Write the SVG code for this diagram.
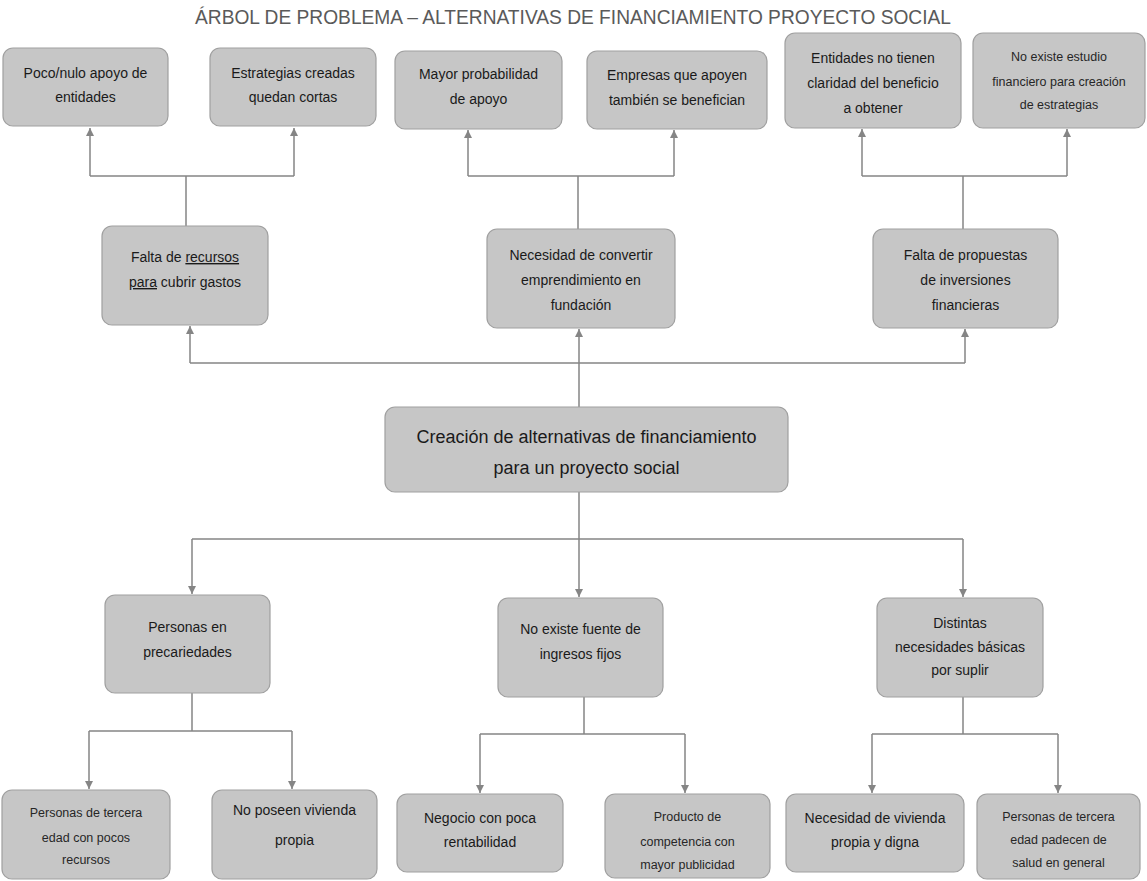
<svg xmlns="http://www.w3.org/2000/svg" width="1147" height="881" viewBox="0 0 1147 881">
<style>
.box{fill:#c6c6c6;stroke:#a0a0a0;stroke-width:1.2}
.t{font-family:"Liberation Sans",Arial,sans-serif;font-size:14px;fill:#1a1a1a;text-anchor:middle}
.s{font-size:12.5px;fill:#262626}
.c{font-size:18px}
.con{fill:none;stroke:#858585;stroke-width:1.5}
.title{font-family:"Liberation Sans",Arial,sans-serif;font-size:21px;fill:#5a5a5a;text-anchor:middle}
</style>
<defs>
<marker id="ah" markerUnits="userSpaceOnUse" markerWidth="9" markerHeight="9" refX="8" refY="4" orient="auto">
<path d="M0,0 L8,4 L0,8 z" fill="#858585"/>
</marker>
</defs>
<rect width="1147" height="881" fill="#ffffff"/>
<text class="title" x="573" y="24" textLength="756" lengthAdjust="spacingAndGlyphs">ÁRBOL DE PROBLEMA – ALTERNATIVAS DE FINANCIAMIENTO PROYECTO SOCIAL</text>

<g id="connectors">
<path class="con" d="M186,226 V176 M90,176 H294"/>
<path class="con" d="M90,176 V128" marker-end="url(#ah)"/>
<path class="con" d="M294,176 V128" marker-end="url(#ah)"/>
<path class="con" d="M578,229 V176 M468,176 H674"/>
<path class="con" d="M468,176 V130" marker-end="url(#ah)"/>
<path class="con" d="M674,176 V130" marker-end="url(#ah)"/>
<path class="con" d="M963,229 V176 M862,176 H1067"/>
<path class="con" d="M862,176 V129" marker-end="url(#ah)"/>
<path class="con" d="M1067,176 V129" marker-end="url(#ah)"/>
<path class="con" d="M190,363 H965"/>
<path class="con" d="M190,363 V326" marker-end="url(#ah)"/>
<path class="con" d="M965,363 V329" marker-end="url(#ah)"/>
<path class="con" d="M579,407 V329" marker-end="url(#ah)"/>
<path class="con" d="M579,492 V597" marker-end="url(#ah)"/>
<path class="con" d="M192,539 H963"/>
<path class="con" d="M192,539 V594" marker-end="url(#ah)"/>
<path class="con" d="M963,539 V597" marker-end="url(#ah)"/>
<path class="con" d="M192,693 V731 M89,731 H292"/>
<path class="con" d="M89,731 V789" marker-end="url(#ah)"/>
<path class="con" d="M292,731 V789" marker-end="url(#ah)"/>
<path class="con" d="M584,697 V734 M480,734 H685"/>
<path class="con" d="M480,734 V793" marker-end="url(#ah)"/>
<path class="con" d="M685,734 V793" marker-end="url(#ah)"/>
<path class="con" d="M963,697 V734 M872,734 H1058"/>
<path class="con" d="M872,734 V793" marker-end="url(#ah)"/>
<path class="con" d="M1058,734 V793" marker-end="url(#ah)"/>
</g>

<g id="n1"><rect class="box" x="3" y="48" width="165" height="78" rx="10"/>
<text class="t" x="85.5" y="78">Poco/nulo apoyo de</text><text class="t" x="85.5" y="102">entidades</text></g>
<g id="n2"><rect class="box" x="210" y="48" width="166" height="78" rx="10"/>
<text class="t" x="293" y="78">Estrategias creadas</text><text class="t" x="293" y="102">quedan cortas</text></g>
<g id="n3"><rect class="box" x="395" y="51" width="167" height="78" rx="10"/>
<text class="t" x="478.5" y="79">Mayor probabilidad</text><text class="t" x="478.5" y="104">de apoyo</text></g>
<g id="n4"><rect class="box" x="587" y="51" width="180" height="78" rx="10"/>
<text class="t" x="677" y="80">Empresas que apoyen</text><text class="t" x="677" y="105">también se benefician</text></g>
<g id="n5"><rect class="box" x="785" y="33" width="176" height="95" rx="10"/>
<text class="t" x="873" y="63">Entidades no tienen</text><text class="t" x="873" y="88">claridad del beneficio</text><text class="t" x="873" y="113">a obtener</text></g>
<g id="n6"><rect class="box" x="973" y="33" width="172" height="95" rx="10"/>
<text class="t s" x="1059" y="61">No existe estudio</text><text class="t s" x="1059" y="86">financiero para creación</text><text class="t s" x="1059" y="109">de estrategias</text></g>

<g id="n7"><rect class="box" x="102" y="226" width="166" height="99" rx="10"/>
<text class="t" x="185" y="262">Falta de <tspan text-decoration="underline">recursos </tspan></text><text class="t" x="185" y="287"><tspan text-decoration="underline">para</tspan> cubrir gastos</text></g>
<g id="n8"><rect class="box" x="487" y="229" width="188" height="99" rx="10"/>
<text class="t" x="581" y="260">Necesidad de convertir</text><text class="t" x="581" y="285">emprendimiento en</text><text class="t" x="581" y="310">fundación</text></g>
<g id="n9"><rect class="box" x="873" y="229" width="185" height="99" rx="10"/>
<text class="t" x="965.5" y="260">Falta de propuestas</text><text class="t" x="965.5" y="285">de inversiones</text><text class="t" x="965.5" y="310">financieras</text></g>

<g id="n0"><rect class="box" x="385" y="407" width="403" height="85" rx="10"/>
<text class="t c" x="586.5" y="443">Creación de alternativas de financiamiento</text><text class="t c" x="586.5" y="474">para un proyecto social</text></g>

<g id="n10"><rect class="box" x="105" y="595" width="165" height="98" rx="10"/>
<text class="t" x="187.5" y="632">Personas en</text><text class="t" x="187.5" y="657">precariedades</text></g>
<g id="n11"><rect class="box" x="498" y="598" width="165" height="99" rx="10"/>
<text class="t" x="580.5" y="634">No existe fuente de</text><text class="t" x="580.5" y="659">ingresos fijos</text></g>
<g id="n12"><rect class="box" x="877" y="598" width="166" height="99" rx="10"/>
<text class="t" x="960" y="628">Distintas</text><text class="t" x="960" y="652">necesidades básicas</text><text class="t" x="960" y="675">por suplir</text></g>

<g id="n13"><rect class="box" x="2" y="790" width="168" height="89" rx="10"/>
<text class="t s" x="86" y="817">Personas de tercera</text><text class="t s" x="86" y="842">edad con pocos</text><text class="t s" x="86" y="864">recursos</text></g>
<g id="n14"><rect class="box" x="212" y="790" width="165" height="89" rx="10"/>
<text class="t" x="294.5" y="815">No poseen vivienda</text><text class="t" x="294.5" y="845">propia</text></g>
<g id="n15"><rect class="box" x="397" y="794" width="166" height="78" rx="10"/>
<text class="t" x="480" y="823">Negocio con poca</text><text class="t" x="480" y="847">rentabilidad</text></g>
<g id="n16"><rect class="box" x="605" y="794" width="165" height="84" rx="10"/>
<text class="t s" x="687.5" y="821">Producto de</text><text class="t s" x="687.5" y="846">competencia con</text><text class="t s" x="687.5" y="869">mayor publicidad</text></g>
<g id="n17"><rect class="box" x="786" y="794" width="178" height="78" rx="10"/>
<text class="t" x="875" y="823">Necesidad de vivienda</text><text class="t" x="875" y="847">propia y digna</text></g>
<g id="n18"><rect class="box" x="977" y="794" width="163" height="85" rx="10"/>
<text class="t s" x="1058.5" y="821">Personas de tercera</text><text class="t s" x="1058.5" y="844">edad padecen de</text><text class="t s" x="1058.5" y="867">salud en general</text></g>
</svg>
